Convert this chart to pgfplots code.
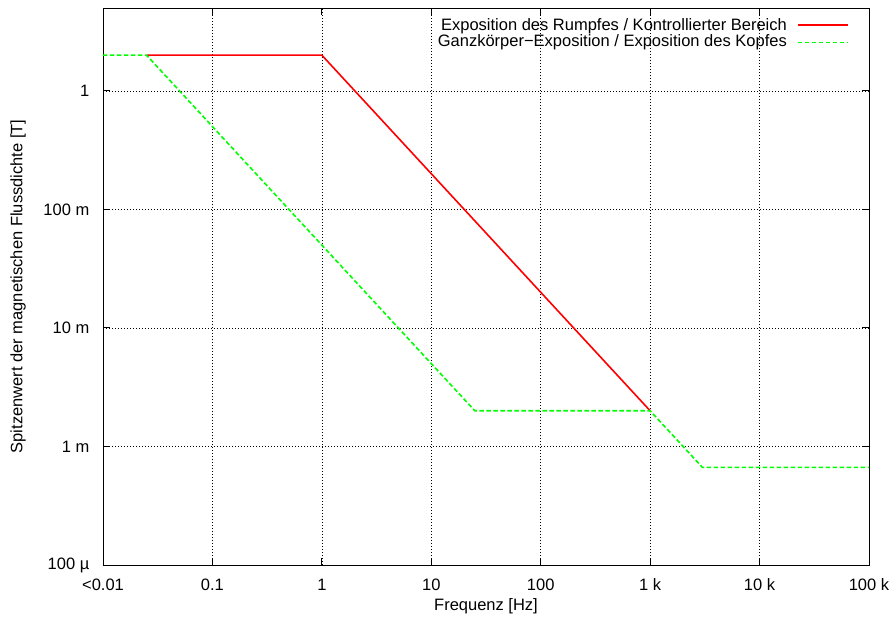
\documentclass[border=0pt]{standalone}
\usepackage{pgfplots}
\pgfplotsset{compat=1.18}
\usepackage{fontspec}
\setmainfont{Liberation Sans}
\begin{document}
\fontsize{16.5}{19}\selectfont
\begin{tikzpicture}
\begin{axis}[
  scale only axis,
  width=766pt, height=557pt,
  xmode=log, ymode=log,
  xmin=0.01, xmax=1e5,
  ymin=1e-4, ymax=5,
  xtick={0.01,0.1,1,10,100,1000,10000,100000},
  xticklabels={<0.01,0.1,1,10,100,1 k,10 k,100 k},
  ytick={1e-4,1e-3,1e-2,1e-1,1},
  yticklabels={100 µ,1 m,10 m,100 m,1},
  xminorticks=false, yminorticks=false,
  tick align=inside,
  major tick length=7pt,
  grid=major,
  major grid style={black, line width=0.5pt, dash pattern=on 0.6pt off 2.4pt},
  axis line style={black, line width=0.9pt},
  tick style={black, line width=0.9pt},
  xticklabel style={yshift=-8pt},
  yticklabel style={xshift=-8pt},
  every axis x label/.style={at={(axis description cs:0.5,0)}, anchor=center, yshift=-41pt},
  every axis y label/.style={at={(axis description cs:0,0.5)}, anchor=center, rotate=90, yshift=85pt},
  xlabel={Frequenz [Hz]},
  ylabel={Spitzenwert der magnetischen Flussdichte [T]},
]
\coordinate (sw) at (rel axis cs:0,0);
\coordinate (ne) at (rel axis cs:1,1);
% legend sample lines first (text left, sample line right, as in the reference)
\draw[red, line width=1.6pt] (rel axis cs:0.9073,0.9695) -- (rel axis cs:0.9726,0.9695);
\draw[green, line width=1.6pt, dash pattern=on 4.5pt off 2.5pt] (rel axis cs:0.9073,0.9377) -- (rel axis cs:0.9726,0.9377);
\addplot[red, line width=1.6pt] coordinates {(0.025,2) (1,2) (1000,0.002)};
\addplot[green, line width=1.6pt, dash pattern=on 4.5pt off 2.5pt] coordinates {(0.01,2) (0.025,2) (25,0.002) (1000,0.002) (3000,0.000667) (100000,0.000667)};
\node[anchor=base east, inner sep=0pt] at (rel axis cs:0.8930,0.9592) {Exposition des Rumpfes / Kontrollierter Bereich};
\node[anchor=base east, inner sep=0pt] at (rel axis cs:0.8930,0.9305) {Ganzkörper−Exposition / Exposition des Kopfes};
\end{axis}
\pgfresetboundingbox
\path ([shift={(-103pt,-58pt)}]sw) rectangle ([shift={(25pt,8pt)}]ne);
\end{tikzpicture}
\end{document}
